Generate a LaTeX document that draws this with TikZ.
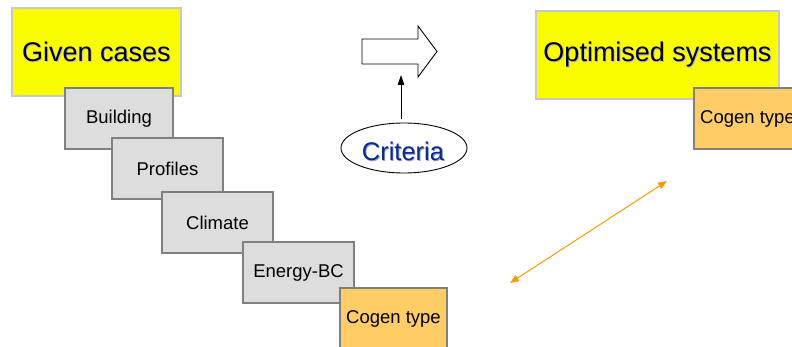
\documentclass[tikz,border=0pt]{standalone}
\usepackage{fontspec}
\setmainfont{Liberation Sans}
\usetikzlibrary{shapes.geometric,arrows.meta}
\definecolor{boxyellow}{HTML}{FAFC00}
\definecolor{boxgray}{HTML}{DDDDDD}
\definecolor{boxorange}{HTML}{FFCC66}
\definecolor{edgegray}{HTML}{808080}
\definecolor{edgelight}{HTML}{C8C8C8}
\definecolor{linkorange}{HTML}{FF9900}
\definecolor{critblue}{HTML}{0A2A8F}
% text with a soft drop shadow
\newcommand\shtext[2][black!28]{\leavevmode\rlap{\hspace{0.9pt}\raisebox{-0.9pt}{\textcolor{#1}{#2}}}#2}
\tikzset{
  bigbox/.style={draw=edgelight, line width=1.2pt, fill=boxyellow, inner sep=0pt,
    minimum height=88pt, font=\fontsize{27}{32}\selectfont},
  databox/.style={draw=edgegray, line width=1.3pt, fill=boxgray, inner sep=0pt,
    minimum width=111pt, minimum height=61pt, font=\fontsize{18.5}{22}\selectfont},
  cogenbox/.style={databox, fill=boxorange, minimum width=107pt},
  critnode/.style={draw, ellipse, line width=0.9pt, minimum width=126pt, minimum height=50pt,
    inner sep=0pt},
  crittext/.style={inner sep=0pt, text=critblue, font=\fontsize{25.5}{30}\selectfont},
  blockarrow/.style={draw, line width=0.9pt, fill=white},
  thinarrow/.style={line width=0.9pt, -{Triangle[width=6.5pt,length=10pt]}},
  linkarrow/.style={draw=linkorange, line width=1pt,
    {Triangle[width=7pt,length=9pt]}-{Triangle[width=7pt,length=9pt]}}
}
\begin{document}
\begin{tikzpicture}[x=1pt,y=-1pt]
  \useasboundingbox (0,0) rectangle (792,347);
  \clip (0,0) rectangle (792,347);

  % left stack of inputs
  \node[bigbox, minimum width=169pt] (given) at (96.5,52) {\shtext{Given cases}};
  \node[databox, minimum width=108pt] (building) at (119,118.5) {Building};
  \node[databox] (profiles) at (167.5,168.5) {Profiles};
  \node[databox] (climate) at (217.5,222.5) {Climate};
  \node[databox] (energy) at (298.5,272.5) {Energy-BC};
  \node[cogenbox] (cogenA) at (393.5,318.5) {Cogen type};

  % right result
  \node[bigbox, minimum width=243pt] (optim) at (657.5,55) {\shtext{Optimised systems}};
  \node[cogenbox] (cogenB) at (747.5,118.5) {Cogen type};

  % process arrow and criteria
  \draw[blockarrow] (362,39) -- (418,39) -- (418,26) -- (437,51.5) -- (418,77)
    -- (418,64) -- (362,64) -- cycle;
  \coordinate (blockbase) at (401,75);
  \node[critnode] (crit) at (404,148) {};
  \node[crittext] (critlabel) at (403,152) {\shtext[critblue!45]{Criteria}};
  \draw[thinarrow] (crit.north -| blockbase) ++(0,-4) -- (blockbase);

  % link between the two cogeneration choices
  \coordinate (linkA) at (510,283);
  \coordinate (linkB) at (667,181);
  \draw[linkarrow] (linkA) -- (linkB);
\end{tikzpicture}
\end{document}
